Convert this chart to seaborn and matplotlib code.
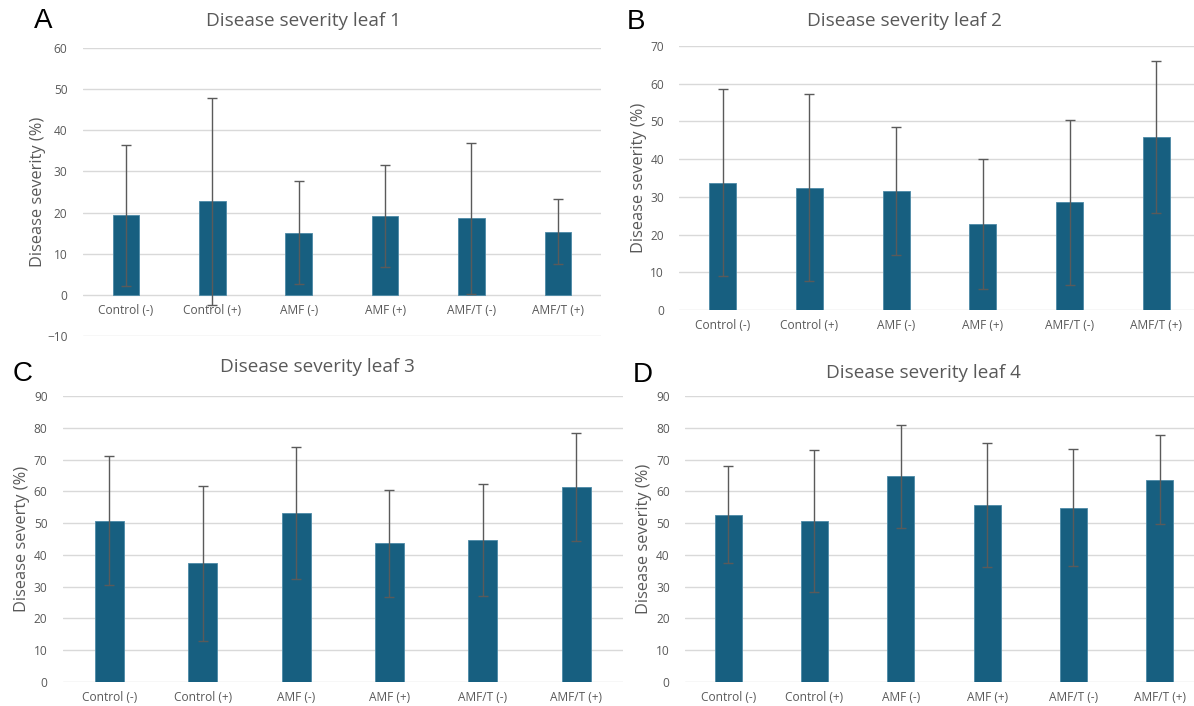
import matplotlib
matplotlib.use("Agg")
import matplotlib.pyplot as plt
import seaborn as sns
import pandas as pd

# Treatment groups on the x axis
groups = ["Control (-)", "Control (+)", "AMF (-)", "AMF (+)", "AMF/T (-)", "AMF/T (+)"]

# Mean disease severity (%) and standard deviation per leaf
leaf1_mean = [19.3, 22.7, 15.1, 19.1, 18.6, 15.4]
leaf1_sd = [17.2, 25.2, 12.5, 12.4, 18.3, 7.9]

leaf2_mean = [33.8, 32.4, 31.5, 22.8, 28.6, 45.9]
leaf2_sd = [24.7, 24.8, 17.0, 17.3, 21.9, 20.2]

leaf3_mean = [50.7, 37.3, 53.1, 43.6, 44.6, 61.4]
leaf3_sd = [20.3, 24.3, 20.7, 16.8, 17.6, 17.0]

leaf4_mean = [52.7, 50.7, 64.7, 55.7, 54.8, 63.7]
leaf4_sd = [15.2, 22.3, 16.2, 19.4, 18.4, 13.9]

titles = ["Disease severity leaf 1", "Disease severity leaf 2",
          "Disease severity leaf 3", "Disease severity leaf 4"]
ylabels = ["Disease severity (%)", "Disease severity (%)",
           "Disease severty (%)", "Disease severity (%)"]
letters = ["A", "B", "C", "D"]
y_ticks = [list(range(-10, 61, 10)), list(range(0, 71, 10)),
           list(range(0, 91, 10)), list(range(0, 91, 10))]

sns.set_theme(style="white")
plt.rcParams["font.family"] = ["Open Sans", "DejaVu Sans"]

BAR = "#175f80"
ERR = "#5a5a5a"
GRID = "#d9d9d9"
TXT = "#595959"

W, H = 1194, 706
fig = plt.figure(figsize=(W / 100, H / 100), dpi=100)

# plot-area rectangles in pixels: left, right, top, bottom
rects = [(82.7, 601.1, 47.8, 336.2),
         (679.4, 1199.6, 46.0, 310.0),
         (62.8, 622.7, 396.0, 682.0),
         (685.0, 1203.0, 396.0, 682.0)]
# text anchors in pixels
title_xy = [(303, 21), (904, 21), (317, 367), (923, 373)]
ylabel_xy = [(38, 192), (639, 178), (22, 539), (644, 539)]
letter_xy = [(43, 21), (636, 22), (23, 374), (643, 375)]

panels = [(leaf1_mean, leaf1_sd), (leaf2_mean, leaf2_sd),
          (leaf3_mean, leaf3_sd), (leaf4_mean, leaf4_sd)]

for i, (means, sds) in enumerate(panels):
    l, r, t, b = rects[i]
    ax = fig.add_axes([l / W, 1 - b / H, (r - l) / W, (b - t) / H])
    df = pd.DataFrame({"group": groups, "severity": means})
    sns.barplot(data=df, x="group", y="severity", color=BAR, width=0.31,
                saturation=1, errorbar=None, edgecolor="#4d8aa6",
                linewidth=0.6, ax=ax, zorder=2)
    ax.errorbar(range(len(groups)), means, yerr=sds, fmt="none",
                ecolor=ERR, elinewidth=1.0, capsize=3.5, capthick=1.0,
                zorder=3)
    ax.set_xlim(-0.5, len(groups) - 0.5)
    ax.set_ylim(y_ticks[i][0], y_ticks[i][-1])
    ax.set_yticks(y_ticks[i])
    ax.yaxis.grid(True, color=GRID, linewidth=1.0)
    ax.set_axisbelow(True)
    for s in ax.spines.values():
        s.set_visible(False)
    # category labels sit on the zero line
    ax.spines["bottom"].set_position(("data", 0))
    ax.tick_params(axis="both", length=0, colors=TXT, labelsize=8.6)
    ax.tick_params(axis="x", pad=6.5)
    ax.tick_params(axis="y", pad=11)
    ax.set_xlabel("")
    ax.set_ylabel("")
    ax.patch.set_alpha(0)

    fig.text(title_xy[i][0] / W, 1 - title_xy[i][1] / H, titles[i],
             ha="center", va="center", fontsize=13.6, color=TXT)
    fig.text(ylabel_xy[i][0] / W, 1 - ylabel_xy[i][1] / H, ylabels[i],
             ha="center", va="center", rotation=90, fontsize=11.8, color=TXT)
    fig.text(letter_xy[i][0] / W, 1 - letter_xy[i][1] / H, letters[i],
             ha="center", va="center", fontsize=20, color="black",
             family=["Liberation Sans", "DejaVu Sans"])

fig.savefig("out.png", dpi=100, facecolor="white")
